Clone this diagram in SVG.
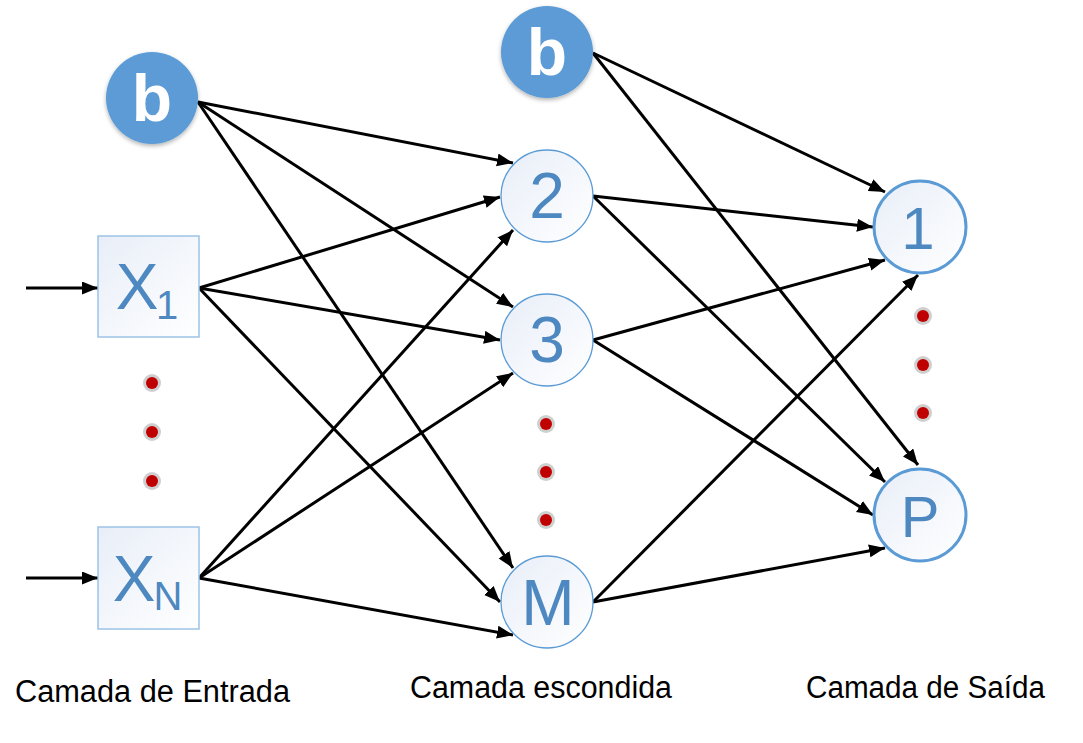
<svg xmlns="http://www.w3.org/2000/svg" width="1083" height="743" viewBox="0 0 1083 743">
<defs>
  <marker id="ah" markerUnits="userSpaceOnUse" markerWidth="18" markerHeight="14" refX="16" refY="6.5" orient="auto">
    <path d="M0,0 L16,6.5 L0,13 z" fill="#000"/>
  </marker>
  <linearGradient id="nodeFill" x1="0" y1="0" x2="1" y2="1">
    <stop offset="0" stop-color="#E8EEF8"/>
    <stop offset="1" stop-color="#FFFFFF"/>
  </linearGradient>
  <filter id="sh" x="-20%" y="-20%" width="140%" height="140%">
    <feDropShadow dx="0" dy="2" stdDeviation="2" flood-color="#000" flood-opacity="0.3"/>
  </filter>
  <g id="dot">
    <circle r="9" fill="#CFCFCF"/>
    <circle r="6" fill="#C00000"/>
  </g>
</defs>
<style>
  .bias { fill: #5B9BD5; filter: url(#sh); }
  .btxt { font-family: "Liberation Sans", Arial, sans-serif; font-weight: bold; font-size: 66px; fill: #FFFFFF; text-anchor: middle; }
  .box { fill: url(#nodeFill); stroke: #9DC3E6; stroke-width: 1.5; }
  .hid { fill: url(#nodeFill); stroke: #5B9BD5; stroke-width: 1.3; }
  .out { fill: url(#nodeFill); stroke: #5B9BD5; stroke-width: 3; }
  .ntxt { font-family: "Liberation Sans", Arial, sans-serif; font-size: 64px; fill: #4E88C0; text-anchor: middle; }
  .sub { font-family: "Liberation Sans", Arial, sans-serif; font-size: 40px; fill: #4E88C0; text-anchor: middle; }
  .lbl { font-family: "Liberation Sans", Arial, sans-serif; font-size: 31px; fill: #000; }
  .conn line { stroke: #000; stroke-width: 3; marker-end: url(#ah); }
</style>
<rect width="1083" height="743" fill="#FFFFFF"/>

<g id="connectors" class="conn">
  <line x1="26" y1="288" x2="98" y2="288"/>
  <line x1="26" y1="578" x2="98" y2="578"/>
  <line x1="198" y1="102" x2="513" y2="163"/>
  <line x1="198" y1="102" x2="513" y2="307"/>
  <line x1="198" y1="102" x2="513" y2="568"/>
  <line x1="199" y1="288" x2="500" y2="197"/>
  <line x1="199" y1="288" x2="500" y2="340"/>
  <line x1="199" y1="288" x2="500" y2="602"/>
  <line x1="199" y1="578" x2="513" y2="230"/>
  <line x1="199" y1="578" x2="513" y2="373"/>
  <line x1="199" y1="578" x2="513" y2="635"/>
  <line x1="593" y1="53" x2="885" y2="192"/>
  <line x1="593" y1="53" x2="918" y2="465"/>
  <line x1="593" y1="196" x2="873" y2="227"/>
  <line x1="593" y1="196" x2="885" y2="482"/>
  <line x1="593" y1="340" x2="885" y2="260"/>
  <line x1="593" y1="340" x2="873" y2="515"/>
  <line x1="593" y1="602" x2="918" y2="275"/>
  <line x1="593" y1="602" x2="885" y2="548"/>
</g>

<g id="bias-input">
  <circle class="bias" cx="152" cy="98" r="46"/>
  <text class="btxt" x="152" y="121">b</text>
</g>
<g id="bias-hidden">
  <circle class="bias" cx="547" cy="52" r="46"/>
  <text class="btxt" x="547" y="75">b</text>
</g>

<g id="x1">
  <rect class="box" x="98" y="236" width="101" height="101"/>
  <text class="ntxt" x="137" y="309">X</text>
  <text class="sub" x="167" y="319">1</text>
</g>
<g id="xn">
  <rect class="box" x="98" y="527" width="101" height="102"/>
  <text class="ntxt" x="134" y="601">X</text>
  <text class="sub" x="168" y="610">N</text>
</g>

<g id="input-dots">
  <use href="#dot" x="152" y="383"/>
  <use href="#dot" x="152" y="432"/>
  <use href="#dot" x="152" y="481"/>
</g>

<g id="h2">
  <circle class="hid" cx="547" cy="196" r="46"/>
  <text class="ntxt" x="547" y="218">2</text>
</g>
<g id="h3">
  <circle class="hid" cx="547" cy="340" r="46"/>
  <text class="ntxt" x="547" y="362">3</text>
</g>
<g id="hidden-dots">
  <use href="#dot" x="546" y="424"/>
  <use href="#dot" x="546" y="472"/>
  <use href="#dot" x="546" y="520"/>
</g>
<g id="hM">
  <circle class="hid" cx="547" cy="602" r="46"/>
  <text class="ntxt" x="548" y="625">M</text>
</g>

<g id="o1">
  <circle class="out" cx="920" cy="227" r="46"/>
  <text class="ntxt" x="918" y="249" style="font-size:60px">1</text>
</g>
<g id="output-dots">
  <use href="#dot" x="923" y="316"/>
  <use href="#dot" x="923" y="365"/>
  <use href="#dot" x="923" y="413"/>
</g>
<g id="oP">
  <circle class="out" cx="920" cy="515" r="46"/>
  <text class="ntxt" x="920" y="537" style="font-size:58px">P</text>
</g>

<g id="labels">
  <text class="lbl" x="15" y="702" textLength="275" lengthAdjust="spacingAndGlyphs">Camada de Entrada</text>
  <text class="lbl" x="410" y="698" textLength="262" lengthAdjust="spacingAndGlyphs">Camada escondida</text>
  <text class="lbl" x="806" y="698" textLength="239" lengthAdjust="spacingAndGlyphs">Camada de Saída</text>
</g>
</svg>
